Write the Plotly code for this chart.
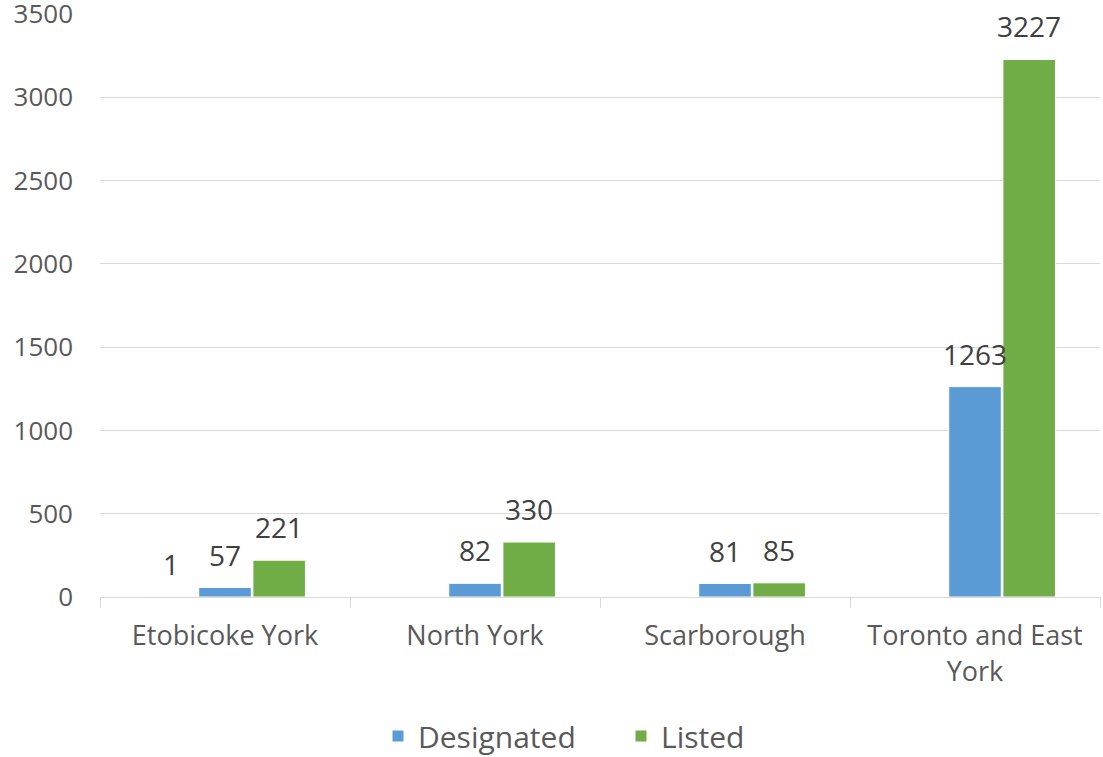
import plotly.graph_objects as go

categories = ["Etobicoke York", "North York", "Scarborough", "Toronto and East<br>York"]
other = [1, None, None, None]
designated = [57, 82, 81, 1263]
listed = [221, 330, 85, 3227]

FONT = "Open Sans"
LABEL_COLOR = "#404040"
TICK_COLOR = "#595959"
BARGAP = 0.35
W, H = 1103, 757
ML, MR, MT, MB = 100, 3, 14, 160
PLOT_W = W - ML - MR
PLOT_H = H - MT - MB

fig = go.Figure()
fig.add_trace(go.Bar(x=categories, y=other, name="Other", showlegend=False,
                     marker=dict(color="rgba(237,125,49,0.2)", line=dict(width=0))))
fig.add_trace(go.Bar(x=categories, y=designated, name="Designated",
                     marker=dict(color="#5B9BD5", line=dict(color="white", width=1))))
fig.add_trace(go.Bar(x=categories, y=listed, name="Listed",
                     marker=dict(color="#70AD47", line=dict(color="white", width=1))))
fig.update_traces(cliponaxis=False)

# data labels as annotations positioned on the bars through the axis scales
slot = PLOT_W / len(categories) * (1 - BARGAP) / 3
for i, series in enumerate([other, designated, listed]):
    for cat, v in zip(categories, series):
        if v is None:
            continue
        fig.add_annotation(x=cat, y=v, xref="x", yref="y", text=str(v),
                           showarrow=False, yanchor="bottom", xanchor="center",
                           xshift=(i - 1) * slot, yshift=12,
                           font=dict(family=FONT, size=28, color=LABEL_COLOR))

fig.update_layout(
    width=W, height=H,
    margin=dict(l=ML, r=MR, t=MT, b=MB, autoexpand=False),
    paper_bgcolor="white", plot_bgcolor="white",
    barmode="group", bargap=BARGAP, bargroupgap=0.03,
    font=dict(family=FONT, size=26, color=TICK_COLOR),
    showlegend=True,
    legend=dict(orientation="h", x=0.278, xanchor="left",
                y=-(MB + 5) / PLOT_H, yanchor="bottom",
                font=dict(size=30, color=TICK_COLOR), traceorder="normal",
                entrywidth=198, entrywidthmode="pixels"),
    xaxis=dict(showline=True, linecolor="#d9d9d9", linewidth=1, ticks="outside",
               tickson="boundaries", ticklen=10, tickcolor="#d9d9d9",
               ticklabelstandoff=15,
               tickfont=dict(size=27, color=TICK_COLOR)),
    yaxis=dict(range=[0, 3500], dtick=500, showgrid=True, gridcolor="#d9d9d9",
               zeroline=False, showline=False, ticks="", ticklabelstandoff=26,
               ticklabeloverflow="allow",
               tickfont=dict(size=26, color=TICK_COLOR)),
)
fig.write_html("out.html", config={"displayModeBar": False},
               post_script="document.body.style.margin='0';")
